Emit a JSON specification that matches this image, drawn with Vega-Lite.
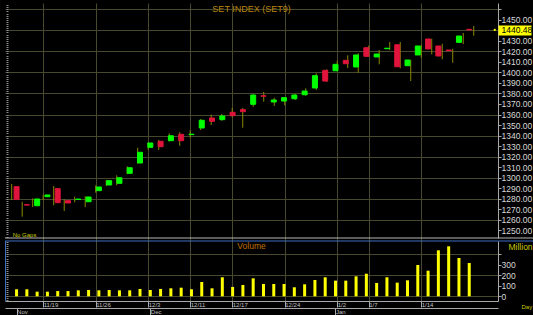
{
  "$schema": "https://vega.github.io/schema/vega-lite/v6.json",
  "background": "#000000",
  "padding": {"left": 4, "top": 3, "right": 0, "bottom": 0},
  "width": 493,
  "height": 298,
  "data": {"values": [
    {"i":0,"d":"11/14","o":1291.4,"h":1293.9,"l":1278.7,"c":1279.4,"v":67},
    {"i":1,"d":"11/15","o":1274.3,"h":1277.0,"l":1262.9,"c":1273.9,"v":67},
    {"i":2,"d":"11/16","o":1273.3,"h":1280.2,"l":1272.0,"c":1279.7,"v":44},
    {"i":3,"d":"11/19","o":1281.9,"h":1283.8,"l":1278.7,"c":1283.5,"v":44},
    {"i":4,"d":"11/20","o":1289.5,"h":1292.0,"l":1273.7,"c":1276.2,"v":50},
    {"i":5,"d":"11/21","o":1278.1,"h":1279.4,"l":1268.3,"c":1275.9,"v":50},
    {"i":6,"d":"11/22","o":1279.2,"h":1281.9,"l":1276.5,"c":1279.6,"v":57},
    {"i":7,"d":"11/23","o":1277.1,"h":1282.2,"l":1272.0,"c":1281.6,"v":60},
    {"i":8,"d":"11/26","o":1287.6,"h":1292.7,"l":1285.7,"c":1291.1,"v":57},
    {"i":9,"d":"11/27","o":1293.0,"h":1297.8,"l":1292.0,"c":1297.1,"v":60},
    {"i":10,"d":"11/28","o":1294.6,"h":1302.2,"l":1292.7,"c":1299.9,"v":57},
    {"i":11,"d":"11/29","o":1304.1,"h":1310.8,"l":1303.2,"c":1309.4,"v":57},
    {"i":12,"d":"11/30","o":1313.9,"h":1328.4,"l":1313.2,"c":1324.1,"v":70},
    {"i":13,"d":"12/3","o":1328.8,"h":1333.5,"l":1326.5,"c":1332.9,"v":60},
    {"i":14,"d":"12/4","o":1334.5,"h":1335.8,"l":1326.3,"c":1329.4,"v":70},
    {"i":15,"d":"12/6","o":1335.1,"h":1342.1,"l":1334.5,"c":1339.8,"v":76},
    {"i":16,"d":"12/7","o":1341.2,"h":1343.1,"l":1330.3,"c":1335.1,"v":82},
    {"i":17,"d":"12/11","o":1340.9,"h":1345.0,"l":1338.0,"c":1341.3,"v":67},
    {"i":18,"d":"12/12","o":1347.2,"h":1355.7,"l":1345.3,"c":1354.5,"v":136},
    {"i":19,"d":"12/13","o":1356.7,"h":1359.8,"l":1350.0,"c":1353.5,"v":76},
    {"i":20,"d":"12/14","o":1355.1,"h":1360.5,"l":1354.1,"c":1358.6,"v":181},
    {"i":21,"d":"12/17","o":1362.1,"h":1366.2,"l":1357.3,"c":1358.9,"v":89},
    {"i":22,"d":"12/18","o":1364.6,"h":1366.2,"l":1347.5,"c":1362.7,"v":108},
    {"i":23,"d":"12/19","o":1369.7,"h":1379.5,"l":1367.4,"c":1378.5,"v":171},
    {"i":24,"d":"12/20","o":1377.8,"h":1381.4,"l":1372.2,"c":1377.4,"v":117},
    {"i":25,"d":"12/21","o":1371.9,"h":1376.0,"l":1368.1,"c":1373.8,"v":117},
    {"i":26,"d":"12/24","o":1372.8,"h":1376.5,"l":1368.7,"c":1376.0,"v":117},
    {"i":27,"d":"12/25","o":1375.0,"h":1379.4,"l":1373.8,"c":1378.5,"v":86},
    {"i":28,"d":"12/26","o":1378.8,"h":1384.9,"l":1377.9,"c":1382.3,"v":114},
    {"i":29,"d":"12/27","o":1385.2,"h":1399.2,"l":1383.3,"c":1396.9,"v":155},
    {"i":30,"d":"12/28","o":1402.0,"h":1402.9,"l":1391.2,"c":1391.8,"v":181},
    {"i":31,"d":"1/2","o":1401.6,"h":1411.1,"l":1401.1,"c":1407.7,"v":149},
    {"i":32,"d":"1/3","o":1411.5,"h":1416.3,"l":1404.2,"c":1408.3,"v":149},
    {"i":33,"d":"1/4","o":1405.2,"h":1418.2,"l":1399.7,"c":1416.6,"v":190},
    {"i":34,"d":"1/7","o":1423.5,"h":1425.4,"l":1415.0,"c":1415.3,"v":215},
    {"i":35,"d":"1/8","o":1414.7,"h":1421.3,"l":1407.7,"c":1417.5,"v":127},
    {"i":36,"d":"1/9","o":1422.6,"h":1428.9,"l":1421.3,"c":1423.0,"v":181},
    {"i":37,"d":"1/10","o":1426.3,"h":1428.9,"l":1403.9,"c":1405.4,"v":130},
    {"i":38,"d":"1/11","o":1406.4,"h":1412.0,"l":1391.8,"c":1411.8,"v":152},
    {"i":39,"d":"1/14","o":1416.6,"h":1426.4,"l":1414.0,"c":1425.1,"v":298},
    {"i":40,"d":"1/15","o":1431.8,"h":1432.0,"l":1417.2,"c":1422.3,"v":244},
    {"i":41,"d":"1/16","o":1425.1,"h":1427.3,"l":1412.5,"c":1415.6,"v":438},
    {"i":42,"d":"1/17","o":1421.3,"h":1422.5,"l":1409.2,"c":1420.7,"v":476},
    {"i":43,"d":"1/18","o":1428.6,"h":1437.5,"l":1427.0,"c":1434.6,"v":365},
    {"i":44,"d":"1/21","o":1441.0,"h":1444.1,"l":1434.9,"c":1440.48,"v":317}
  ]},
  "layer": [
    {
      "mark": {"type": "rule", "opacity": 0},
      "encoding": {
        "x": {"field": "i", "type": "quantitative", "scale": {"domain": [-0.638, 46.31], "nice": false, "zero": false},
              "axis": {"orient": "bottom", "values": [3,8,13,17,21,26,31,34,39],
                       "labelExpr": "['11/14','11/15','11/16','11/19','11/20','11/21','11/22','11/23','11/26','11/27','11/28','11/29','11/30','12/3','12/4','12/6','12/7','12/11','12/12','12/13','12/14','12/17','12/18','12/19','12/20','12/21','12/24','12/25','12/26','12/27','12/28','1/2','1/3','1/4','1/7','1/8','1/9','1/10','1/11','1/14','1/15','1/16','1/17','1/18','1/21'][datum.value]",
                       "grid": true, "ticks": true, "tickSize": 6, "labelAlign": "left", "labelDx": 1.5, "labelBaseline": "middle", "labelPadding": -3, "labelFontSize": 6, "labelColor": "#c0c0c0",
                       "title": "Day", "titleX": 516, "titleY": 5, "titleAlign": "left", "titleBaseline": "middle", "titleFontSize": 6, "titleColor": "#c8c800", "titleFontWeight": "normal"}}
      }
    },
    {
      "mark": {"type": "rule", "color": "#8a8a00", "strokeWidth": 1},
      "encoding": {
        "x": {"field": "i", "type": "quantitative", "scale": {"domain": [-0.638, 46.31], "nice": false, "zero": false}, "axis": null},
        "y": {"field": "l", "type": "quantitative", "scale": {"domain": [1242.6, 1466], "range": [235, 0], "nice": false, "zero": false},
              "axis": {"orient": "right", "values": [1250,1260,1270,1280,1290,1300,1310,1320,1330,1340,1350,1360,1370,1380,1390,1400,1410,1420,1430,1440,1450,1460],
                       "labelExpr": "datum.value == 1440 || datum.value == 1460 ? '' : format(datum.value, '.2f')",
                       "grid": true, "gridOpacity": {"condition": {"test": "datum.value % 20 == 0", "value": 1}, "value": 0},
                       "tickSize": 3, "labelPadding": 0, "labelFontSize": 8.5, "title": null}},
        "y2": {"field": "h"}
      }
    },
    {
      "mark": {"type": "bar", "size": 5, "strokeWidth": 1},
      "encoding": {
        "x": {"field": "i", "type": "quantitative", "scale": {"domain": [-0.638, 46.31], "nice": false, "zero": false}, "axis": null},
        "y": {"field": "o", "type": "quantitative", "scale": {"domain": [1242.6, 1466], "range": [235, 0], "nice": false, "zero": false}, "axis": null},
        "y2": {"field": "c"},
        "color": {"condition": {"test": "datum.c >= datum.o", "value": "#00ff00"}, "value": "#e0143c"},
        "stroke": {"condition": {"test": "datum.c >= datum.o", "value": "#00ff00"}, "value": "#e0143c"}
      }
    },
    {
      "transform": [{"filter": "datum.i == 44"}],
      "mark": {"type": "square", "size": 4, "color": "#ffff00", "opacity": 1},
      "encoding": {
        "x": {"datum": 46, "type": "quantitative", "scale": {"domain": [-0.638, 46.31], "nice": false, "zero": false}, "axis": null},
        "y": {"field": "c", "type": "quantitative", "scale": {"domain": [1242.6, 1466], "range": [235, 0], "nice": false, "zero": false},
              "axis": {"orient": "right", "values": [1440.48], "format": ".2f", "grid": false, "domain": false,
                       "tickColor": "#ffff00", "tickSize": 33, "tickWidth": 10, "labelColor": "#000000", "labelPadding": -30, "labelFontSize": 8.5, "title": null}}
      }
    },
    {
      "data": {"values": [{"note": "No Gaps"}]},
      "mark": {"type": "text", "align": "left", "baseline": "middle", "fontSize": 6, "color": "#c8c800"},
      "encoding": {
        "x": {"datum": 0.1, "type": "quantitative", "scale": {"domain": [-0.638, 46.31], "nice": false, "zero": false}, "axis": null},
        "y": {"datum": 1245.5, "type": "quantitative", "scale": {"domain": [1242.6, 1466], "range": [235, 0], "nice": false, "zero": false},
              "axis": {"orient": "left", "offset": -3, "labels": false, "domain": false, "grid": false, "tickSize": 2, "tickColor": "#8c8c8c", "title": null,
                       "values": [1244,1246,1248,1250,1252,1254,1256,1258,1260,1262,1264,1266,1268,1270,1272,1274,1276,1278,1280,1282,1284,1286,1288,1290,1292,1294,1296,1298,1300,1302,1304,1306,1308,1310,1312,1314,1316,1318,1320,1322,1324,1326,1328,1330,1332,1334,1336,1338,1340,1342,1344,1346,1348,1350,1352,1354,1356,1358,1360,1362,1364,1366,1368,1370,1372,1374,1376,1378,1380,1382,1384,1386,1388,1390,1392,1394,1396,1398,1400,1402,1404,1406,1408,1410,1412,1414,1416,1418,1420,1422,1424,1426,1428,1430,1432,1434,1436,1438,1440,1442,1444,1446,1448,1450,1452,1454,1456,1458,1460,1462,1464]}},
        "text": {"field": "note"}
      }
    },
    {
      "data": {"values": [{"t": "SET INDEX (SET9)"}]},
      "mark": {"type": "text", "align": "center", "baseline": "middle", "fontSize": 9, "color": "#b8860b"},
      "encoding": {
        "x": {"datum": 22.84, "type": "quantitative", "scale": {"domain": [-0.638, 46.31], "nice": false, "zero": false}, "axis": null},
        "y": {"datum": 1460.3, "type": "quantitative", "scale": {"domain": [1242.6, 1466], "range": [235, 0], "nice": false, "zero": false}, "axis": null},
        "text": {"field": "t"}
      }
    },
    {
      "data": {"values": [{"edge": "price bottom"}]},
      "mark": {"type": "rule", "color": "#b8b8b8", "strokeWidth": 1},
      "encoding": {
        "x": {"datum": -0.638, "type": "quantitative", "scale": {"domain": [-0.638, 46.31], "nice": false, "zero": false}, "axis": null},
        "x2": {"datum": 49.7},
        "y": {"datum": 1242.6, "type": "quantitative", "scale": {"domain": [1242.6, 1466], "range": [235, 0], "nice": false, "zero": false}, "axis": null}
      }
    },
    {
      "mark": {"type": "bar", "size": 3, "color": "#ffff00"},
      "encoding": {
        "x": {"field": "i", "type": "quantitative", "scale": {"domain": [-0.638, 46.31], "nice": false, "zero": false},
              "axis": {"orient": "bottom", "offset": 7, "values": [0,13,31], "labelExpr": "datum.value == 0 ? 'Nov' : datum.value == 13 ? 'Dec' : 'Jan'",
                       "grid": false, "ticks": true, "tickSize": 7, "labelAlign": "left", "labelDx": 1.5, "labelBaseline": "middle", "labelPadding": -3.5, "labelFontSize": 6, "labelColor": "#c0c0c0", "title": null}},
        "y": {"field": "v", "type": "quantitative", "scale": {"domain": [-44.8, 526.7], "range": [298, 238], "nice": false, "zero": false},
              "axis": {"orient": "right", "values": [0,100,200,300,400], "labelExpr": "datum.value == 400 ? '' : datum.label",
                       "grid": true, "gridOpacity": {"condition": {"test": "datum.value % 200 == 0", "value": 1}, "value": 0},
                       "tickSize": 3, "labelPadding": 0, "labelFontSize": 8.5,
                       "title": "Million", "titleX": 10, "titleY": 243, "titleAngle": 0, "titleAlign": "left", "titleBaseline": "middle", "titleColor": "#c8c800", "titleFontSize": 8.5, "titleFontWeight": "normal"}},
        "y2": {"datum": 0}
      }
    },
    {
      "data": {"values": [{"edge": "volume top"}]},
      "mark": {"type": "rule", "color": "#3a6fc4", "strokeWidth": 1},
      "encoding": {
        "x": {"datum": -0.638, "type": "quantitative", "scale": {"domain": [-0.638, 46.31], "nice": false, "zero": false}, "axis": null},
        "x2": {"datum": 49.7},
        "y": {"datum": 526.7, "type": "quantitative", "scale": {"domain": [-44.8, 526.7], "range": [298, 238], "nice": false, "zero": false}, "axis": null}
      }
    },
    {
      "data": {"values": [{"edge": "volume left"}]},
      "mark": {"type": "rule", "color": "#3a6fc4", "strokeWidth": 1},
      "encoding": {
        "x": {"datum": -0.59, "type": "quantitative", "scale": {"domain": [-0.638, 46.31], "nice": false, "zero": false}, "axis": null},
        "y": {"datum": -44.8, "type": "quantitative", "scale": {"domain": [-44.8, 526.7], "range": [298, 238], "nice": false, "zero": false},
              "axis": {"orient": "left", "offset": -3, "labels": false, "domain": false, "grid": false, "tickSize": 2, "tickColor": "#8c8c8c", "title": null,
                       "values": [-40,-20,0,20,40,60,80,100,120,140,160,180,200,220,240,260,280,300,320,340,360,380,400,420,440,460,480,500,520]}},
        "y2": {"datum": 526.7}
      }
    },
    {
      "data": {"values": [{"t": "Volume"}]},
      "mark": {"type": "text", "align": "center", "baseline": "middle", "fontSize": 8.5, "color": "#c07000"},
      "encoding": {
        "x": {"datum": 22.84, "type": "quantitative", "scale": {"domain": [-0.638, 46.31], "nice": false, "zero": false}, "axis": null},
        "y": {"datum": 479, "type": "quantitative", "scale": {"domain": [-44.8, 526.7], "range": [298, 238], "nice": false, "zero": false}, "axis": null},
        "text": {"field": "t"}
      }
    }
  ],
  "resolve": {"scale": {"x": "independent", "y": "independent"}, "axis": {"x": "independent", "y": "independent"}},
  "config": {
    "view": {"stroke": null},
    "font": "Liberation Sans",
    "axis": {"gridColor": "#48482e", "gridWidth": 1, "domainColor": "#a8a8a8", "tickColor": "#a8a8a8", "labelColor": "#d8d8d8", "labelFont": "Liberation Sans", "titleFont": "Liberation Sans", "labelOverlap": false, "labelFlush": false}
  }
}
